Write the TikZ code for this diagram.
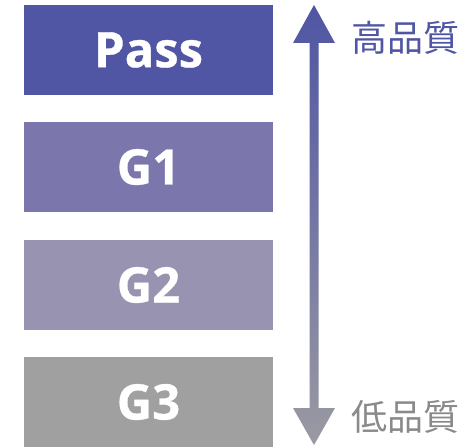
\documentclass[tikz,border=0pt]{standalone}
\usepackage{fontspec}
\newfontfamily\boxfont{Open Sans}[FakeBold=0.6]
\newfontfamily\jpfont{Noto Sans CJK JP}
\definecolor{cpass}{HTML}{5056A3}
\definecolor{cgone}{HTML}{7B76AC}
\definecolor{cgtwo}{HTML}{9893B0}
\definecolor{cgthree}{HTML}{A0A0A0}
\definecolor{carrowtop}{HTML}{4F55A3}
\definecolor{carrowbot}{HTML}{9A9AA2}
\definecolor{clow}{HTML}{8A8A8A}
\tikzset{
  grade/.style={minimum width=249pt, minimum height=90pt, inner sep=0pt, text=white,
    font=\boxfont\bfseries\fontsize{49}{52}\selectfont},
  qlabel/.style={anchor=west, inner sep=0pt, font=\jpfont\fontsize{36}{40}\selectfont}
}
\begin{document}
\begin{tikzpicture}[x=1pt,y=1pt]
\useasboundingbox (0,0) rectangle (476,447);
\node[grade, fill=cpass]   (pass) at (148.5,397) {Pass};
\node[grade, fill=cgone]   (g1)   at (148.5,280) {G1};
\node[grade, fill=cgtwo]   (g2)   at (148.5,162) {G2};
\node[grade, fill=cgthree] (g3)   at (148.5,45)  {G3};
% double-headed gradient arrow
\coordinate (ttip) at (314,442);
\coordinate (btip) at (314,2);
\shade[top color=carrowtop, bottom color=carrowbot]
  (ttip) -- ++(21,-38) -- ++(-16.5,0) -- (318.5,39) -- ++(16.5,0)
  -- (btip) -- ++(-21,37) -- ++(16.5,0) -- (309.5,404) -- ++(-16.5,0) -- cycle;
\node[qlabel, text=cpass] (high) at (351,409) {高品質};
\node[qlabel, text=clow]  (low)  at (351,30)  {低品質};
\end{tikzpicture}
\end{document}
